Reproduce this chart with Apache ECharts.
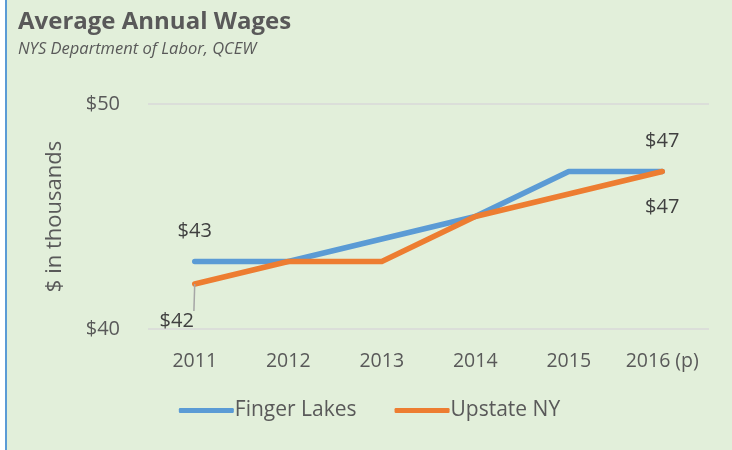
<!DOCTYPE html>
<html>
<head>
<meta charset="utf-8">
<script src="https://cdn.jsdelivr.net/npm/echarts@6/dist/echarts.min.js"></script>
<style>
  html, body { margin: 0; padding: 0; background: #fff; }
  .frame {
    position: absolute; left: 5px; top: 0; width: 727px; height: 450px;
    background: #e2efda; border-left: 2px solid #5b9bd5; box-sizing: border-box;
  }
  #chart { width: 725px; height: 450px; }
</style>
</head>
<body>
<div class="frame"><div id="chart"></div></div>
<script>
const years = ['2011', '2012', '2013', '2014', '2015', '2016 (p)']
const fingerLakes = [43, 43, 44, 45, 47, 47]
const upstateNY = [42, 43, 43, 45, 46, 47]

const txt = '#595959'
const font = 'Open Sans'

// only first and last points get value labels
const withLabels = (vals, first, last) => vals.map((v, i) => {
  if (i === 0) return Object.assign({ value: v }, first)
  if (i === vals.length - 1) return Object.assign({ value: v }, last)
  return v
})

const valLabel = (extra) => Object.assign({
  show: true, fontSize: 20, color: '#404040', formatter: p => '$' + p.value
}, extra)

const chart = echarts.init(document.getElementById('chart'))
chart.setOption({
  backgroundColor: 'transparent',
  textStyle: { fontFamily: font },
  title: {
    text: 'Average Annual Wages',
    subtext: 'NYS Department of Labor, QCEW',
    left: 6,
    top: 5,
    itemGap: 7,
    textStyle: { fontSize: 24, fontWeight: 'bold', color: txt, fontFamily: font },
    subtextStyle: { fontSize: 16.5, fontStyle: 'italic', color: txt, fontFamily: font }
  },
  legend: {
    bottom: 24,
    left: 'center',
    itemWidth: 55,
    itemHeight: 5,
    itemGap: 38,
    icon: 'roundRect',
    textStyle: { fontSize: 21, color: txt, padding: [0, 0, 0, -4] },
    data: ['Finger Lakes', 'Upstate NY']
  },
  grid: { left: 141, right: 23, top: 104, bottom: 121 },
  xAxis: {
    type: 'category',
    data: years,
    axisLine: { show: false },
    axisTick: { show: false },
    axisLabel: { color: txt, fontSize: 19.5, margin: 22, interval: 0 }
  },
  yAxis: {
    type: 'value',
    min: 40,
    max: 50,
    interval: 10,
    name: '$ in thousands',
    nameLocation: 'middle',
    nameGap: 82,
    nameTextStyle: { color: txt, fontSize: 22 },
    axisLabel: { color: txt, fontSize: 20, margin: 28, formatter: v => '$' + v },
    axisLine: { show: false },
    axisTick: { show: false },
    splitLine: { lineStyle: { color: '#d9d9d9', width: 1.5 } }
  },
  series: [
    {
      name: 'Finger Lakes',
      type: 'line',
      symbol: 'circle',
      symbolSize: 0.1,
      showSymbol: true,
      color: '#5b9bd5',
      lineStyle: { width: 5.5, cap: 'round', join: 'round' },
      label: { show: false },
      data: withLabels(fingerLakes,
        { label: valLabel({ position: 'top', distance: 20 }) },
        { label: valLabel({ position: 'top', distance: 20 }) })
    },
    {
      name: 'Upstate NY',
      type: 'line',
      symbol: 'circle',
      symbolSize: 0.1,
      showSymbol: true,
      color: '#ed7d31',
      lineStyle: { width: 5.5, cap: 'round', join: 'round' },
      label: { show: false },
      data: withLabels(upstateNY,
        {
          label: valLabel({ position: 'bottom', distance: 22, offset: [-18, 5] }),
          labelLine: { show: true, lineStyle: { color: '#a6a6a6', width: 1.5 } }
        },
        { label: valLabel({ position: 'bottom', distance: 26 }) })
    }
  ]
})
</script>
</body>
</html>
